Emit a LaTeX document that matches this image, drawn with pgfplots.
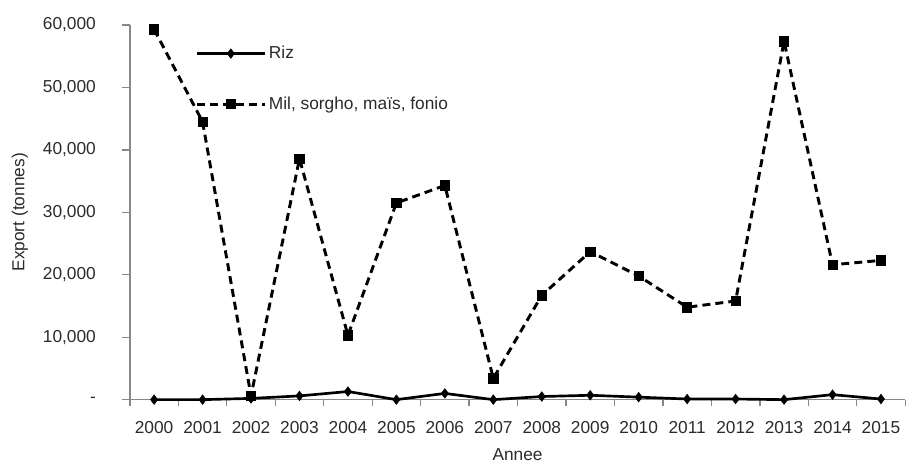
\documentclass[border=0pt]{standalone}
\usepackage{pgfplots}
\pgfplotsset{compat=1.18}
\usepackage{fontspec}
\setmainfont{Liberation Sans}
\definecolor{axgray}{HTML}{888888}
\definecolor{txt}{HTML}{2B2B2B}
\begin{document}
\begin{tikzpicture}[x=1pt,y=1pt]
\begin{axis}[
  scale only axis,
  width=582pt, height=281.25pt,
  xmin=-0.5, xmax=15.5,
  ymin=0, ymax=60000,
  scaled y ticks=false,
  axis x line*=bottom, axis y line*=left,
  axis line style={axgray, line width=1.2pt},
  xtick={0,...,15},
  xticklabels={2000,2001,2002,2003,2004,2005,2006,2007,2008,2009,2010,2011,2012,2013,2014,2015},
  major x tick style={draw=none},
  minor xtick={-0.5,0.5,...,15.5},
  minor tick length=5pt,
  minor x tick style={axgray, line width=1pt},
  ytick={0,10000,20000,30000,40000,50000,60000},
  yticklabels={-,{10,000},{20,000},{30,000},{40,000},{50,000},{60,000}},
  y tick style={axgray, line width=1pt},
  major tick length=6pt,
  tick align=outside,
  tick label style={font=\fontsize{13}{15}\selectfont, text=txt},
  xticklabel style={yshift=-6.5pt},
  yticklabel style={xshift=-16pt},
  xlabel={Annee}, ylabel={Export (tonnes)},
  label style={font=\fontsize{13}{15}\selectfont, text=txt},
  xlabel style={at={(axis description cs:0.5,-0.1467)}, anchor=center},
  ylabel style={at={(axis description cs:-0.1418,0.5)}, anchor=center},
  clip=false,
  legend style={draw=none, fill=none, at={(0.079,0.958)}, anchor=north west,
    font=\fontsize{13}{15}\selectfont, text=txt, row sep=23pt,
    /tikz/every even column/.append style={column sep=8pt}},
  legend cell align=left,
  legend image code/.code={\draw[mark repeat=2,mark phase=2] plot coordinates {(0pt,0pt) (25.5pt,0pt) (51pt,0pt)};},
]
\addplot[black, line width=2pt, mark=diamond*, mark size=3.6pt, mark options={solid, fill=black, line width=0.4pt}]
coordinates {(0,0) (1,0) (2,200) (3,600) (4,1300) (5,0) (6,1000) (7,0) (8,500) (9,700) (10,400) (11,100) (12,100) (13,0) (14,800) (15,100)};
\addlegendentry{Riz}
\addplot[black, line width=2.2pt, dash pattern=on 6pt off 3.8pt, mark=square*, mark size=3.5pt, mark options={solid, fill=black, line width=0.5pt}]
coordinates {(0,59300) (1,44500) (2,600) (3,38600) (4,10300) (5,31500) (6,34300) (7,3400) (8,16700) (9,23700) (10,19800) (11,14800) (12,15800) (13,57400) (14,21600) (15,22300)};
\addlegendentry{Mil, sorgho, maïs, fonio}
\end{axis}
\path (current axis.south west) ++(-97.5pt,-50.25pt) coordinate (bl);
\path (current axis.north east) ++(0pt,18.75pt) coordinate (tr);
\useasboundingbox (bl) rectangle (tr);
\end{tikzpicture}
\end{document}
